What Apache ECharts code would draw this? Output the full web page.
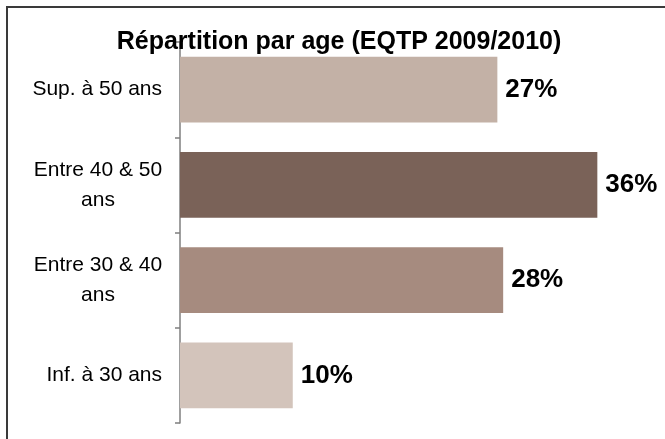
<!DOCTYPE html>
<html>
<head>
<meta charset="utf-8">
<script src="https://cdn.jsdelivr.net/npm/echarts@6/dist/echarts.min.js"></script>
<style>
  html, body { margin: 0; padding: 0; background: #fff; }
  #chart { width: 665px; height: 439px; }
</style>
</head>
<body>
<div id="chart"></div>
<script>
// categories top -> bottom
const categories = ["Sup. à 50 ans", "Entre 40 & 50\nans", "Entre 30 & 40\nans", "Inf. à 30 ans"];
const values = [27.3, 35.9, 27.8, 9.7];
const barColors = ["#C3B1A6", "#7A6258", "#A68B7F", "#D3C4BB"];

const font = '"Liberation Sans Narrow", "Arial Narrow", "Liberation Sans", Arial, sans-serif';

const chart = echarts.init(document.getElementById("chart"));
chart.setOption({
  animation: false,
  backgroundColor: "#fff",
  title: {
    text: "Répartition par age (EQTP 2009/2010)",
    left: 339,
    textAlign: "center",
    top: 30,
    padding: 0,
    textStyle: {
      fontFamily: font,
      fontSize: 25,
      fontWeight: "bold",
      color: "#000",
    },
  },
  grid: {
    left: 180,
    top: 42,
    bottom: 16,
    right: 20,
  },
  xAxis: {
    type: "value",
    min: 0,
    max: 40,
    show: false,
    splitLine: { show: false },
  },
  yAxis: {
    type: "category",
    inverse: true,
    data: categories,
    axisLine: {
      show: true,
      lineStyle: { color: "#7f7f7f", width: 1.5 },
    },
    axisTick: {
      show: true,
      length: 5,
      lineStyle: { color: "#7f7f7f", width: 1.5 },
    },
    axisLabel: {
      margin: 18,
      color: "#000",
      fontFamily: font,
      fontSize: 21,
      align: "right",
      formatter: function (v) {
        if (v.indexOf("\n") < 0) return v;
        return v.split("\n").map((l) => "{c|" + l + "}").join("\n");
      },
      rich: {
        c: {
          width: 128,
          align: "center",
          fontFamily: font,
          fontSize: 21,
          lineHeight: 30,
          color: "#000",
        },
      },
    },
  },
  series: [
    {
      type: "bar",
      barWidth: "69%",
      data: values.map((v, i) => ({ value: v, itemStyle: { color: barColors[i] } })),
      label: {
        show: true,
        position: "right",
        distance: 8,
        fontFamily: font,
        fontSize: 26,
        fontWeight: "bold",
        color: "#000",
        formatter: (p) => Math.round(p.value) + "%",
      },
    },
  ],
  graphic: [
    {
      type: "rect",
      shape: { x: 7, y: 7, width: 700, height: 500 },
      style: { fill: "none", stroke: "#3a3a3a", lineWidth: 2 },
      silent: true,
    },
  ],
});
</script>
</body>
</html>
